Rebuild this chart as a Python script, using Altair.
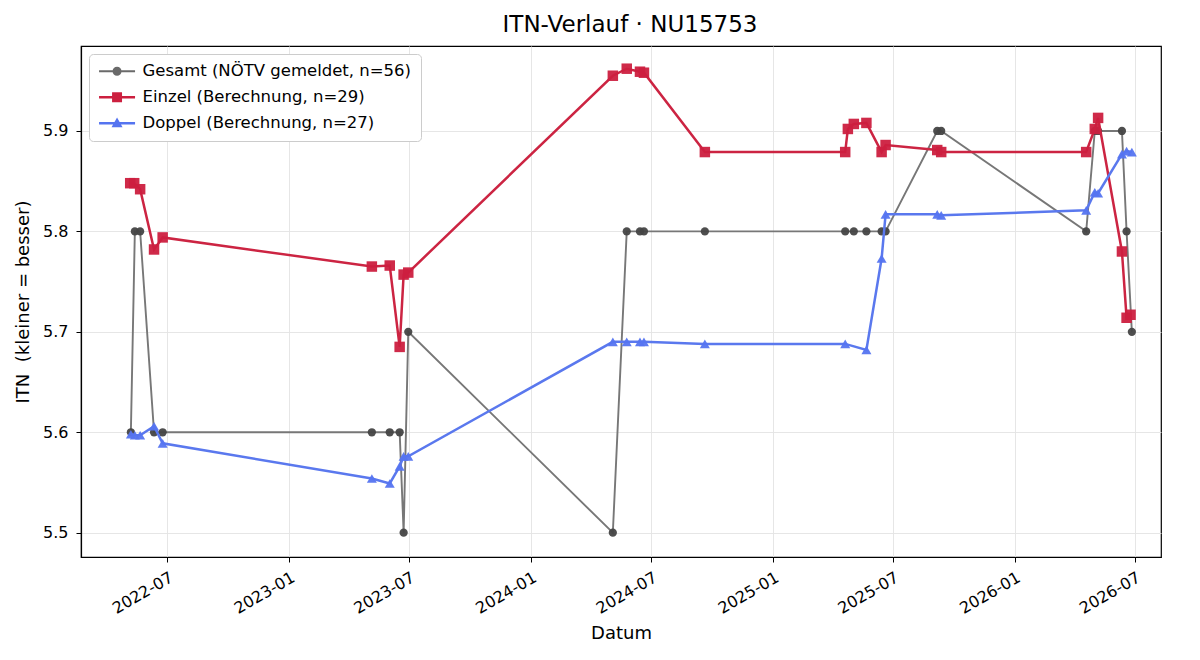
import altair as alt
import pandas as pd

SERIES = ["Gesamt (NÖTV gemeldet, n=56)", "Einzel (Berechnung, n=29)", "Doppel (Berechnung, n=27)"]

gesamt_dates = ["2022-05-07", "2022-05-13", "2022-05-21", "2022-06-11", "2022-06-24",
                "2023-05-06", "2023-06-02", "2023-06-17", "2023-06-23", "2023-06-30",
                "2024-05-04", "2024-05-25", "2024-06-14", "2024-06-20", "2024-09-20",
                "2025-04-20", "2025-05-03", "2025-05-22", "2025-06-14", "2025-06-20",
                "2025-09-06", "2025-09-12", "2026-04-19", "2026-05-02", "2026-05-07",
                "2026-06-12", "2026-06-19", "2026-06-27"]
gesamt_vals = [5.6, 5.8, 5.8, 5.6, 5.6,
               5.6, 5.6, 5.6, 5.5, 5.7,
               5.5, 5.8, 5.8, 5.8, 5.8,
               5.8, 5.8, 5.8, 5.8, 5.8,
               5.9, 5.9, 5.8, 5.9, 5.9,
               5.9, 5.8, 5.7]

einzel_dates = ["2022-05-06", "2022-05-12", "2022-05-21", "2022-06-11", "2022-06-24",
                "2023-05-06", "2023-06-02", "2023-06-17", "2023-06-23", "2023-06-30",
                "2024-05-04", "2024-05-25", "2024-06-14", "2024-06-20", "2024-09-20",
                "2025-04-20", "2025-04-24", "2025-05-03", "2025-05-22", "2025-06-14", "2025-06-20",
                "2025-09-06", "2025-09-12", "2026-04-19", "2026-05-02", "2026-05-07",
                "2026-06-12", "2026-06-19", "2026-06-25"]
einzel_vals = [5.848, 5.848, 5.842, 5.782, 5.794,
               5.765, 5.766, 5.685, 5.757, 5.759,
               5.955, 5.962, 5.959, 5.958, 5.879,
               5.879, 5.902, 5.907, 5.908, 5.879, 5.886,
               5.881, 5.879, 5.879, 5.902, 5.913,
               5.780, 5.714, 5.717]

doppel_dates = ["2022-05-07", "2022-05-13", "2022-05-21", "2022-06-11", "2022-06-24",
                "2023-05-06", "2023-06-02", "2023-06-17", "2023-06-23", "2023-06-30",
                "2024-05-04", "2024-05-25", "2024-06-14", "2024-06-20", "2024-09-20",
                "2025-04-20", "2025-05-22", "2025-06-14", "2025-06-20", "2025-09-06", "2025-09-12",
                "2026-04-19", "2026-05-02", "2026-05-07", "2026-06-12", "2026-06-19", "2026-06-27"]
doppel_vals = [5.598, 5.597, 5.597, 5.606, 5.589,
               5.554, 5.549, 5.566, 5.576, 5.576,
               5.690, 5.690, 5.690, 5.690, 5.688,
               5.688, 5.682, 5.773, 5.817, 5.817, 5.816,
               5.821, 5.839, 5.838, 5.877, 5.880, 5.879]

x_tick_values = ["2022-07-01", "2023-01-01", "2023-07-01", "2024-01-01", "2024-07-01",
                 "2025-01-01", "2025-07-01", "2026-01-01", "2026-07-01"]
y_tick_values = [5.5, 5.6, 5.7, 5.8, 5.9]

LINE_COLORS = ["#777777", "#cc2442", "#5a78ee"]
MARK_COLORS = ["#444444", "#cc1f3f", "#5574f0"]
LEGEND_COLORS = ["#6a6a6a", "#cc1f3f", "#5574f0"]
SHAPES = ["circle", "square", "triangle-up"]
SIZES = [68, 110, 100]
WIDTHS = [1.9, 2.5, 2.5]

frames = []
for name, d, v in [(SERIES[0], gesamt_dates, gesamt_vals),
                   (SERIES[1], einzel_dates, einzel_vals),
                   (SERIES[2], doppel_dates, doppel_vals)]:
    frames.append(pd.DataFrame({"Datum": pd.to_datetime(d), "ITN": v, "Serie": name}))
df = pd.concat(frames, ignore_index=True)


def dt(s):
    y, m, d = [int(p) for p in s.split("-")]
    return alt.DateTime(year=y, month=m, date=d)


x_enc = alt.X("Datum:T",
              scale=alt.Scale(domain=[alt.DateTime(year=2022, month=2, date=20, hours=16),
                                      alt.DateTime(year=2026, month=8, date=10)], nice=False),
              axis=alt.Axis(values=[dt(s) for s in x_tick_values], format="%Y-%m",
                            labelAngle=-30, labelAlign="right", labelBaseline="top",
                            labelPadding=7, title="Datum", titlePadding=8))
y_enc = alt.Y("ITN:Q",
              scale=alt.Scale(domain=[5.4758, 5.9846], nice=False, zero=False),
              axis=alt.Axis(values=y_tick_values, format=".1f", labelPadding=8,
                            title="ITN\u00a0 (kleiner = besser)", titlePadding=10))

layers = []
for i, name in enumerate(SERIES):
    base = alt.Chart(df).transform_filter(alt.datum.Serie == name)
    layers.append(base.mark_line(color=LINE_COLORS[i], strokeWidth=WIDTHS[i]).encode(x=x_enc, y=y_enc))
    layers.append(base.mark_point(shape=SHAPES[i], filled=True, size=SIZES[i], opacity=0.95,
                                  color=MARK_COLORS[i], strokeWidth=0).encode(x=x_enc, y=y_enc))

# Legend entries drawn as a line with the series marker (unit = 6 px)
circle_p = "M-1.2,-0.15H4.8V0.15H-1.2Z M1.05,0A0.75,0.75 0 1,1 2.55,0A0.75,0.75 0 1,1 1.05,0Z"
square_p = "M-1.2,-0.21H4.8V0.21H-1.2Z M0.97,-0.83H2.63V0.83H0.97Z"
tri_p = "M-1.2,-0.21H4.8V0.21H-1.2Z M1.8,-0.95L2.72,0.68L0.88,0.68Z"

leg = alt.Legend(title=None, orient="top-left", offset=8, padding=9,
                 fillColor="white", strokeColor="#cccccc", cornerRadius=4,
                 labelFontSize=16.5, labelFont="DejaVu Sans", labelColor="black",
                 labelLimit=500, labelOffset=28, symbolSize=144,
                 symbolStrokeWidth=0, symbolOpacity=1, rowPadding=9)

legend_layer = alt.Chart(df).transform_filter("datum.ITN > 100").mark_point(filled=True).encode(
    x=x_enc, y=y_enc,
    color=alt.Color("Serie:N", scale=alt.Scale(domain=SERIES, range=LEGEND_COLORS), legend=leg),
    shape=alt.Shape("Serie:N", scale=alt.Scale(domain=SERIES, range=[circle_p, square_p, tri_p]),
                    legend=leg),
)
layers.append(legend_layer)

chart = alt.layer(*layers).properties(
    width=1080, height=511,
    title=alt.TitleParams("ITN-Verlauf · NU15753", fontSize=23, font="DejaVu Sans",
                          fontWeight="normal", anchor="middle", offset=9, dx=9, color="black"),
    autosize=alt.AutoSizeParams(type="none"),
    padding={"left": 81, "top": 46, "right": 39, "bottom": 103},
).configure_view(
    stroke="black", strokeWidth=1.2
).configure_axis(
    labelFont="DejaVu Sans", titleFont="DejaVu Sans", labelFontSize=16, titleFontSize=18,
    titleFontWeight="normal", labelColor="black", titleColor="black",
    domainColor="black", domainWidth=1.2, tickColor="black", tickSize=5, tickWidth=1,
    gridColor="#e3e3e3", gridWidth=0.9
)

chart.save("out.html", embed_options={"renderer": "svg", "actions": False})
